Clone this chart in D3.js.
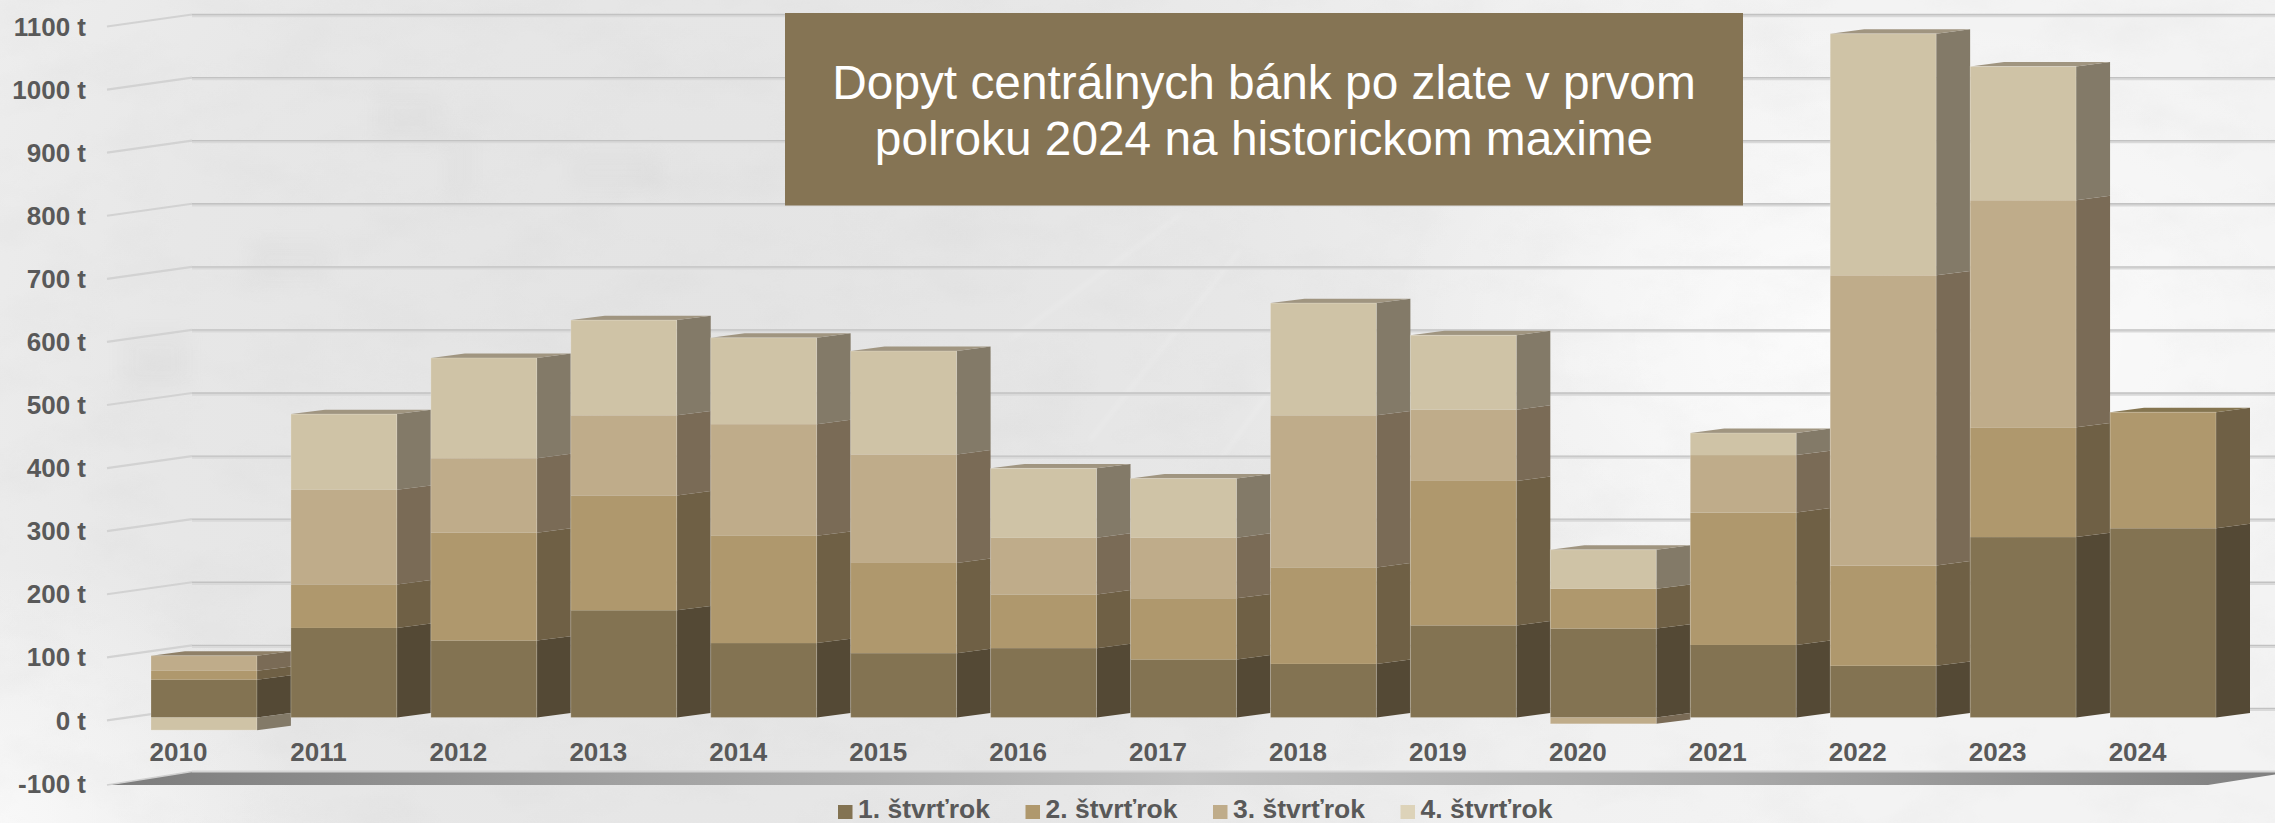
<!DOCTYPE html>
<html>
<head>
<meta charset="utf-8">
<script src="https://cdn.jsdelivr.net/npm/d3@7/dist/d3.min.js"></script>
<style>
html,body{margin:0;padding:0;background:#f0f0f0;overflow:hidden}
svg{display:block}
text{font-family:"Liberation Sans",Arial,sans-serif}
</style>
</head>
<body>
<div id="chart"></div>
<script>
const years = ["2010","2011","2012","2013","2014","2015","2016","2017","2018","2019","2020","2021","2022","2023","2024"];
const q1 = [60,142,122,170,118,102,110,92,85,146,141,115,82,286,300];
const q2 = [14,69,171,182,170,143,85,97,153,229,63,210,159,174,184];
const q3 = [24,150,118,127,177,172,90,96,241,113,-10,91,460,360,0];
const q4 = [-20,120,159,151,137,164,110,94,178,118,62,35,383,212,0];
const seriesNames = ["1. štvrťrok","2. štvrťrok","3. štvrťrok","4. štvrťrok"];
const frontColors = ["#837352","#af986d","#bfac8a","#cfc3a6"];
const sideColors = ["#544935","#6f6045","#7a6b56","#837a68"];
const topColors = ["#6a5d42","#857550","#8f8068","#a09580"];
const legendColors = ["#837352","#af986d","#bfac8a","#ddd3b9"];
const yTicks = [-100,0,100,200,300,400,500,600,700,800,900,1000,1100];
const titleLines = ["Dopyt centrálnych bánk po zlate v prvom","polroku 2024 na historickom maxime"];

const W = 2275, H = 823;
const svg = d3.select("#chart").append("svg").attr("width",W).attr("height",H);
const defs = svg.append("defs");

/* background */
const bgGrad = defs.append("radialGradient").attr("id","bgBase")
  .attr("gradientUnits","userSpaceOnUse").attr("cx",700).attr("cy",400).attr("r",1200);
[[0,"#e3e3e3"],[0.45,"#e7e7e7"],[0.8,"#f1f1f1"],[1,"#f3f3f3"]].forEach(d=>bgGrad.append("stop").attr("offset",d[0]).attr("stop-color",d[1]));
const glow = defs.append("radialGradient").attr("id","bgGlow");
[[0,"#ffffff",0.8],[1,"#ffffff",0]].forEach(d=>glow.append("stop").attr("offset",d[0]).attr("stop-color",d[1]).attr("stop-opacity",d[2]));
const corner = defs.append("radialGradient").attr("id","bgCorner");
[[0,"#fbfbfb",0.8],[1,"#fbfbfb",0]].forEach(d=>corner.append("stop").attr("offset",d[0]).attr("stop-color",d[1]).attr("stop-opacity",d[2]));
const tex = defs.append("filter").attr("id","texture").attr("x",0).attr("y",0).attr("width","100%").attr("height","100%");
tex.append("feTurbulence").attr("type","fractalNoise").attr("baseFrequency","0.012 0.02").attr("numOctaves",5).attr("seed",11);
tex.append("feColorMatrix").attr("type","matrix").attr("values","0 0 0 0 0.5  0 0 0 0 0.5  0 0 0 0 0.5  1.6 0 0 0 -0.68");
defs.append("filter").attr("id","soft").append("feGaussianBlur").attr("stdDeviation",8);
defs.append("filter").attr("id","soft2").append("feGaussianBlur").attr("stdDeviation",2);

svg.append("rect").attr("width",W).attr("height",H).attr("fill","url(#bgBase)");
svg.append("ellipse").attr("cx",1900).attr("cy",340).attr("rx",520).attr("ry",330).attr("fill","url(#bgGlow)");
svg.append("ellipse").attr("cx",0).attr("cy",823).attr("rx",300).attr("ry",260).attr("fill","url(#bgCorner)");
svg.append("rect").attr("width",W).attr("height",H).attr("filter","url(#texture)").attr("opacity",0.1);
const patches = svg.append("g").attr("filter","url(#soft)").attr("fill","#c4c4c4").attr("opacity",0.1);
[[375,90,70,55],[445,130,30,70],[570,150,90,40],[1480,30,60,60],[250,240,80,40],[120,330,70,60]].forEach(d=>
  patches.append("rect").attr("x",d[0]).attr("y",d[1]).attr("width",d[2]).attr("height",d[3]));
const streaks = svg.append("g").attr("filter","url(#soft2)").attr("stroke","#ffffff").attr("stroke-opacity",0.16).attr("stroke-width",3);
[[1010,340,1180,215],[1090,440,1240,250],[1220,460,1300,350]].forEach(d=>
  streaks.append("line").attr("x1",d[0]).attr("y1",d[1]).attr("x2",d[2]).attr("y2",d[3]));

/* scales */
const x = d3.scaleBand().domain(years).range([151,2216]).paddingInner(0.2431).paddingOuter(0);
const yFront = d3.scaleLinear().domain([-100,1100]).range([780.6,23.6]);
const yBack = d3.scaleLinear().domain([-100,1100]).range([771.5,14.5]);
const depthX = 34, depthY = 4.4;
const wallLeft = 192, wallEdge = 107, edgeDrop = 12, wallRight = W;

/* grid */
const grid = svg.append("g");
yTicks.filter(v=>v!==-100).forEach(v=>{
  const yy = yBack(v);
  grid.append("line").attr("x1",wallLeft).attr("x2",wallRight).attr("y1",yy+1.4).attr("y2",yy+1.4).attr("stroke","#d9d9d9").attr("stroke-width",2.6);
  grid.append("line").attr("x1",wallLeft).attr("x2",wallRight).attr("y1",yy).attr("y2",yy).attr("stroke","#c2c2c2").attr("stroke-width",1.3);
  grid.append("line").attr("x1",wallEdge).attr("x2",wallLeft).attr("y1",yy+edgeDrop).attr("y2",yy).attr("stroke","#d2d2d2").attr("stroke-width",2.2);
});

/* floor */
const floorGrad = defs.append("linearGradient").attr("id","floorGrad").attr("gradientUnits","userSpaceOnUse")
  .attr("x1",wallEdge).attr("x2",W).attr("y1",0).attr("y2",0);
[[0,"#7c7c7c"],[0.25,"#a2a2a2"],[0.5,"#c2c2c2"],[0.75,"#a8a8a8"],[1,"#808080"]].forEach(d=>floorGrad.append("stop").attr("offset",d[0]).attr("stop-color",d[1]));
const fy = yBack(-100);
svg.append("path").attr("fill","url(#floorGrad)")
  .attr("d",d3.line()([[wallEdge,fy+13.5],[wallLeft,fy],[W+20,fy],[W-67,fy+13.5]])+"Z");
svg.append("line").attr("x1",wallLeft).attr("x2",W).attr("y1",fy).attr("y2",fy).attr("stroke","#d4d4d4").attr("stroke-width",2);
svg.append("line").attr("x1",wallEdge).attr("x2",wallLeft).attr("y1",fy+13.5).attr("y2",fy).attr("stroke","#d0d0d0").attr("stroke-width",1.5);

/* bars */
const table = years.map((y,i)=>({year:y,a:q1[i],b:q2[i],c:q3[i],d:q4[i]}));
const keys = ["a","b","c","d"];
const stacked = d3.stack().keys(keys).offset(d3.stackOffsetDiverging)(table);
const bw = x.bandwidth();
const barG = svg.append("g");
years.forEach((yr,i)=>{
  const g = barG.append("g");
  const segs = stacked.map((s,k)=>({k,y0:s[i][0],y1:s[i][1]})).filter(d=>d.y0!==d.y1);
  const X = x(yr);
  g.selectAll("path.side").data(segs).join("path").attr("class","side")
    .attr("fill",d=>sideColors[d.k])
    .attr("d",d=>{
      const a=yFront(d.y0),b=yFront(d.y1);
      return d3.line()([[X+bw,a],[X+bw+depthX,a-depthY],[X+bw+depthX,b-depthY],[X+bw,b]])+"Z";
    });
  const topSeg = segs.reduce((m,d)=>d.y1>m.y1?d:m,segs[0]);
  const ty = yFront(topSeg.y1);
  g.append("path").attr("fill",topColors[topSeg.k])
    .attr("d",d3.line()([[X,ty],[X+depthX,ty-depthY],[X+bw+depthX,ty-depthY],[X+bw,ty]])+"Z");
  g.selectAll("rect").data(segs).join("rect")
    .attr("x",X).attr("width",bw)
    .attr("y",d=>yFront(Math.max(d.y0,d.y1)))
    .attr("height",d=>Math.abs(yFront(d.y0)-yFront(d.y1)))
    .attr("fill",d=>frontColors[d.k]);
  const lo = d3.min(segs,d=>d.y0), hi = d3.max(segs,d=>d.y1);
  g.append("rect").attr("x",X).attr("width",bw).attr("y",yFront(hi)).attr("height",yFront(lo)-yFront(hi))
    .attr("fill","none").attr("stroke","#ffffff").attr("stroke-opacity",0.2).attr("stroke-width",1);
});

/* axes */
const axisText = sel => sel.selectAll("text")
  .attr("fill","#595959").attr("font-size",26).attr("font-weight","bold")
  .attr("font-family",'"Liberation Sans",Arial,sans-serif');
const yAxis = d3.axisLeft(yBack).tickValues(yTicks).tickFormat(d=>d+" t").tickSize(0).tickPadding(0);
const yG = svg.append("g").attr("transform","translate(86,20.6)").call(yAxis);
yG.select(".domain").remove();
yG.selectAll("text").attr("dy",0);
axisText(yG);
const xAxis = d3.axisBottom(x).tickSize(0).tickPadding(0);
const xG = svg.append("g").attr("transform",`translate(${-bw/2+27.5},741)`).call(xAxis);
xG.select(".domain").remove();
xG.selectAll("text").attr("dy",0).attr("y",20);
axisText(xG);

/* legend */
const legendX = d3.scalePoint().domain(seriesNames).range([838,1400.5]);
const lg = svg.append("g");
seriesNames.forEach((n,i)=>{
  const lx = legendX(n);
  lg.append("rect").attr("x",lx).attr("y",805).attr("width",14.5).attr("height",14).attr("fill",legendColors[i]);
  lg.append("text").attr("x",lx+20).attr("y",817.6).attr("font-size",26.5).attr("font-weight","bold").attr("fill","#595959").text(n);
});

/* title */
svg.append("rect").attr("x",785).attr("y",13).attr("width",958).attr("height",192.5).attr("fill","#857454");
svg.selectAll("text.title").data(titleLines).join("text").attr("class","title")
  .attr("x",1264).attr("y",(d,i)=>98.7+i*56.7).attr("text-anchor","middle")
  .attr("font-size",47.8).attr("fill","#ffffff").text(d=>d);
</script>
</body>
</html>
